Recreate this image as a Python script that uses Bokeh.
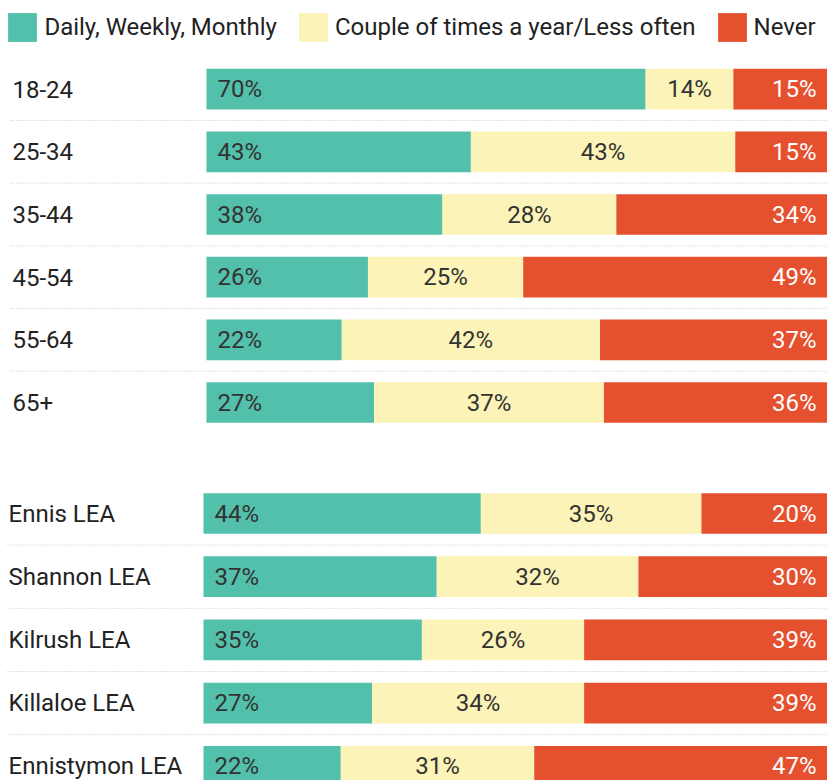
from bokeh.plotting import figure
from bokeh.models import ColumnDataSource, Range1d, Legend, LegendItem
from bokeh.layouts import column
from bokeh.embed import file_html
from bokeh.resources import INLINE
from bokeh.core.properties import value

# ---------------- data ----------------
series = ["Daily, Weekly, Monthly", "Couple of times a year/Less often", "Never"]
colors = ["#52c0aa", "#fbf3b7", "#e5502f"]

age_groups = ["18-24", "25-34", "35-44", "45-54", "55-64", "65+"]
age_frequent = [70, 43, 38, 26, 22, 27]
age_occasional = [14, 43, 28, 25, 42, 37]
age_never = [15, 15, 34, 49, 37, 36]

lea_areas = ["Ennis LEA", "Shannon LEA", "Kilrush LEA", "Killaloe LEA", "Ennistymon LEA"]
lea_frequent = [44, 37, 35, 27, 22]
lea_occasional = [35, 32, 26, 34, 31]
lea_never = [20, 30, 39, 39, 47]

# ---------------- style / layout ----------------
FONT = "Roboto"
FS = "24px"
W = 827
LABEL_COLOR = "#222222"
VALUE_DARK = "#333333"
BAR_PX = 40.7


def make_panel(cats, a, b, c, height, bar_left_px, first_center_px, pitch_px,
               label_px, sep_px, legend=False):
    n = len(cats)
    tot = [x + y + z for x, y, z in zip(a, b, c)]
    fa = [x / t for x, t in zip(a, tot)]
    fb = [y / t for y, t in zip(b, tot)]
    rows = list(range(n))
    bar_w_px = W - bar_left_px
    x_start = -bar_left_px / bar_w_px
    y_top = -first_center_px / pitch_px
    y_bot = (height - first_center_px) / pitch_px

    p = figure(width=W, height=height, x_range=Range1d(x_start, 1),
               y_range=Range1d(y_bot, y_top), output_backend="svg",
               toolbar_location=None, x_axis_location=None, y_axis_location=None,
               min_border=0, outline_line_color=None)
    p.grid.grid_line_color = None

    # dotted separators between rows
    sep_y = [i + 0.5 for i in range(n - 1)]
    p.segment(x0=[x_start + sep_px / bar_w_px] * len(sep_y), x1=[1] * len(sep_y),
              y0=sep_y, y1=sep_y, line_color="#c4c4c4", line_width=1, line_dash="1 2")

    h = BAR_PX / pitch_px
    left1 = [0] * n
    right1 = fa
    left2 = fa
    right2 = [x + y for x, y in zip(fa, fb)]
    left3 = right2
    right3 = [1] * n
    rends = []
    for l, r, col in [(left1, right1, colors[0]), (left2, right2, colors[1]), (left3, right3, colors[2])]:
        src = ColumnDataSource(dict(y=rows, left=l, right=r))
        rends.append(p.hbar(y="y", left="left", right="right", height=h, source=src,
                            fill_color=col, line_color=None))

    # row labels
    p.text(x=[x_start] * n, y=rows, text=cats, x_offset=label_px, text_align="left",
           text_baseline="middle", text_font=value(FONT), text_font_size=FS,
           text_color=LABEL_COLOR)
    # values
    p.text(x=left1, y=rows, text=[f"{v}%" for v in a], x_offset=11, text_align="left",
           text_baseline="middle", text_font=value(FONT), text_font_size=FS,
           text_color=VALUE_DARK)
    p.text(x=[(l + r) / 2 for l, r in zip(left2, right2)], y=rows,
           text=[f"{v}%" for v in b], text_align="center",
           text_baseline="middle", text_font=value(FONT), text_font_size=FS,
           text_color=VALUE_DARK)
    p.text(x=right3, y=rows, text=[f"{v}%" for v in c], x_offset=-11, text_align="right",
           text_baseline="middle", text_font=value(FONT), text_font_size=FS,
           text_color="#ffffff")

    if legend:
        lg = Legend(items=[LegendItem(label=s, renderers=[r]) for s, r in zip(series, rends)],
                    orientation="horizontal", location=(4.4, height - 45.4),
                    glyph_width=36, glyph_height=36, label_standoff=4, spacing=18,
                    padding=0, margin=0, border_line_color=None,
                    background_fill_alpha=0, label_text_font=FONT,
                    label_text_font_size=FS, label_text_color=LABEL_COLOR)
        p.add_layout(lg)
    return p


top = make_panel(age_groups, age_frequent, age_occasional, age_never, height=457,
                 bar_left_px=206, first_center_px=88.7, pitch_px=62.66,
                 label_px=12, sep_px=10, legend=True)
bottom = make_panel(lea_areas, lea_frequent, lea_occasional, lea_never, height=323,
                    bar_left_px=203, first_center_px=56, pitch_px=63.2,
                    label_px=8, sep_px=7)

layout = column(top, bottom, spacing=0)
open("out.html", "w").write(file_html(layout, INLINE))
